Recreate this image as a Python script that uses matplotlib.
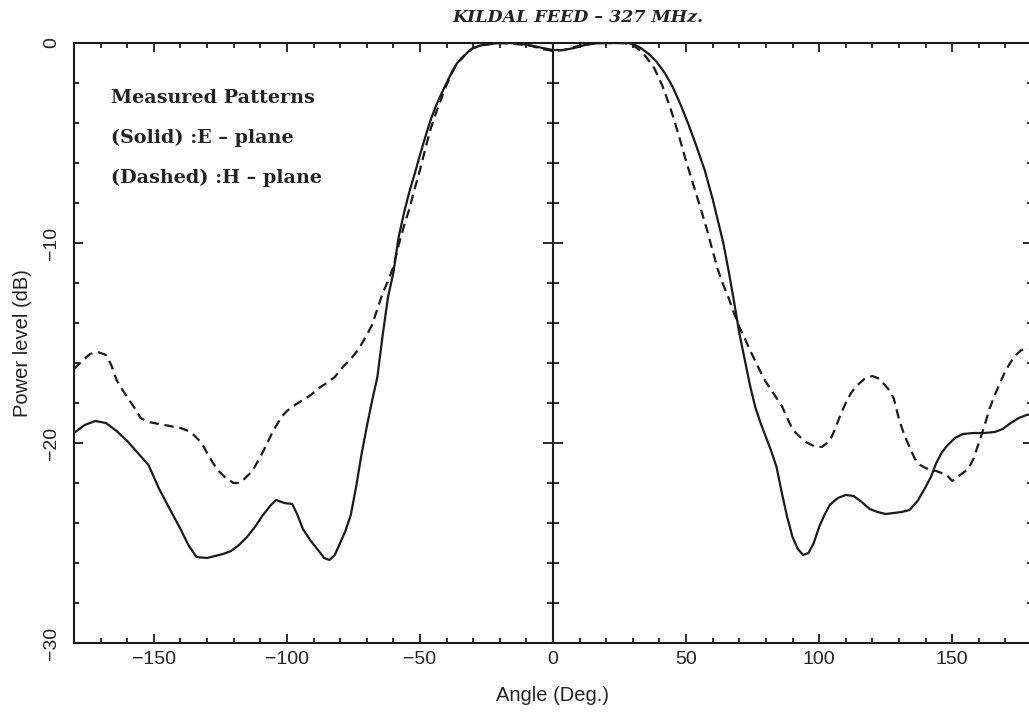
import matplotlib
matplotlib.use("Agg")
import matplotlib.pyplot as plt
from matplotlib.ticker import MultipleLocator

# E-plane (solid) measured pattern
e_angle = [-180, -176, -172, -168, -164, -160, -156, -152, -148, -144, -140, -137, -134, -130,
           -127, -124, -121, -118, -115, -112, -109, -106, -104, -101, -98, -96, -94, -91, -88,
           -86, -84, -82, -80, -78, -76, -74, -72, -70, -68, -66, -64, -62, -60, -58, -56, -54,
           -52, -50, -48, -46, -44, -42, -40, -38, -36, -34, -32, -30, -27, -24, -20, -16, -12,
           -8, -4, 0, 4, 8, 12, 16, 20, 24, 28, 30, 33, 36, 39, 42, 45, 48, 51, 54, 57, 60, 62,
           64, 66, 68, 70, 72, 74, 76, 78, 80, 82, 84, 86, 88, 90, 92, 94, 96, 98, 100, 102, 104,
           107, 110, 113, 116, 119, 122, 125, 128, 131, 134, 137, 140, 142, 144, 146, 148, 151,
           154, 158, 162, 166, 169, 172, 175, 178, 180]
e_db = [-19.5, -19.1, -18.9, -19.0, -19.4, -19.9, -20.5, -21.1, -22.3, -23.3, -24.3, -25.1, -25.7,
        -25.75, -25.65, -25.55, -25.4, -25.1, -24.7, -24.2, -23.6, -23.1, -22.85, -23.0, -23.05,
        -23.6, -24.3, -24.9, -25.4, -25.75, -25.85, -25.6, -25.0, -24.4, -23.6, -22.2, -20.6,
        -19.2, -17.9, -16.7, -14.6, -12.7, -11.5, -9.7, -8.5, -7.45, -6.55, -5.6, -4.7, -3.85,
        -3.15, -2.55, -2.0, -1.45, -1.0, -0.75, -0.45, -0.25, -0.12, -0.05, 0.0, 0.0, -0.05,
        -0.13, -0.25, -0.35, -0.35, -0.25, -0.1, -0.02, 0.0, 0.0, 0.0, -0.05, -0.25, -0.55,
        -0.95, -1.5, -2.2, -3.1, -4.1, -5.2, -6.35, -7.8, -8.9, -10.0, -11.4, -12.9, -14.5,
        -15.8, -17.1, -18.2, -19.0, -19.7, -20.4, -21.2, -22.5, -23.7, -24.7, -25.3, -25.6,
        -25.5, -25.0, -24.2, -23.6, -23.1, -22.75, -22.6, -22.65, -22.95, -23.3, -23.45, -23.55,
        -23.5, -23.45, -23.35, -22.9, -22.2, -21.7, -21.0, -20.5, -20.15, -19.75, -19.55, -19.5,
        -19.5, -19.45, -19.3, -19.0, -18.75, -18.6, -18.55]

# H-plane (dashed) measured pattern
h_angle = [-180, -177, -174, -171, -168, -166, -164, -162, -160, -157, -155, -152, -148, -144,
           -140, -137, -135, -132, -130, -128, -126, -123, -120, -118, -116, -113, -110, -107,
           -105, -102, -100, -97, -94, -91, -88, -85, -82, -79, -76, -73, -70, -68, -66, -64,
           -62, -60, -58, -56, -54, -52, -50, -48, -46, -44, -42, -40, -38, -36, -34, -32, -30,
           -26, -20, -14, -8, -4, 0, 4, 8, 12, 16, 22, 26, 29, 31, 33, 35, 38, 41, 44, 47, 50,
           53, 56, 58, 60, 62, 64, 66, 68, 70, 72, 74, 76, 78, 80, 82, 84, 86, 88, 90, 92, 95,
           98, 101, 104, 106, 108, 110, 112, 114, 117, 120, 122, 124, 126, 128, 130, 132, 134,
           136, 138, 140, 142, 144, 146, 148, 150, 152, 154, 156, 158, 160, 162, 164, 166, 168,
           170, 172, 174, 176, 178, 180]
h_db = [-16.3, -15.9, -15.55, -15.45, -15.6, -16.1, -16.85, -17.3, -17.7, -18.3, -18.75, -18.95,
        -19.05, -19.15, -19.25, -19.4, -19.6, -20.0, -20.5, -20.95, -21.35, -21.75, -22.0, -22.0,
        -21.8, -21.4, -20.7, -19.9, -19.35, -18.7, -18.4, -18.1, -17.85, -17.6, -17.25, -17.0,
        -16.7, -16.2, -15.8, -15.3, -14.6, -14.1, -13.3, -12.5, -11.9, -11.2, -10.1, -9.15,
        -8.3, -7.3, -6.35, -5.3, -4.3, -3.5, -2.8, -2.1, -1.5, -1.0, -0.7, -0.45, -0.25, -0.1,
        0.0, -0.05, -0.15, -0.3, -0.4, -0.35, -0.2, -0.08, 0.0, 0.0, 0.0, -0.05, -0.2, -0.4,
        -0.7, -1.25, -2.1, -3.2, -4.5, -5.9, -7.2, -8.5, -9.4, -10.4, -11.35, -12.1, -12.75,
        -13.5, -14.2, -14.75, -15.35, -15.9, -16.45, -16.95, -17.35, -17.75, -18.15, -18.75,
        -19.3, -19.6, -19.95, -20.15, -20.2, -19.9, -19.3, -18.6, -18.0, -17.5, -17.15, -16.8,
        -16.65, -16.75, -17.0, -17.3, -17.75, -18.8, -19.6, -20.2, -20.8, -21.1, -21.25, -21.35,
        -21.4, -21.5, -21.6, -21.9, -21.7, -21.5, -21.3, -20.8, -20.0, -19.2, -18.3, -17.6,
        -17.0, -16.4, -15.95, -15.6, -15.35, -15.3, -15.3]

x_ticks = [-150, -100, -50, 0, 50, 100, 150]
y_ticks = [-30, -20, -10, 0]
title = "KILDAL FEED \u2013 327 MHz."
legend_lines = ["Measured Patterns", "(Solid) :E \u2013 plane", "(Dashed) :H \u2013 plane"]

W, H = 1029, 715
fig = plt.figure(figsize=(W / 100, H / 100), dpi=100)
left, right, top, bottom = 74, 1032, 43, 643
ax = fig.add_axes([left / W, 1 - bottom / H, (right - left) / W, (bottom - top) / H])

col = "#1a1a1a"
ax.plot(e_angle, e_db, color=col, lw=1.6, solid_joinstyle="round")
ax.plot(h_angle, h_db, color=col, lw=1.6, linestyle=(0, (4.2, 2.6)))

ax.set_xlim(-180, 180)
ax.set_ylim(-30, 0)

# central axis line with crossing ticks
ax.axvline(0, color=col, lw=1.5)
for yv in range(-28, 0, 2):
    major = (yv % 10 == 0)
    ax.plot([0], [yv], marker="_", color=col, markersize=14 if major else 8.5,
            markeredgewidth=1.3, clip_on=False)

for s in ax.spines.values():
    s.set_linewidth(1.5)
    s.set_color(col)

ax.xaxis.set_major_locator(MultipleLocator(50))
ax.xaxis.set_minor_locator(MultipleLocator(10))
ax.yaxis.set_major_locator(MultipleLocator(10))
ax.yaxis.set_minor_locator(MultipleLocator(2))
ax.set_xticks(x_ticks)
ax.set_yticks(y_ticks)
ax.tick_params(which="both", direction="in", top=True, right=True, color=col, width=1.3)
ax.tick_params(which="major", length=6.5)
ax.tick_params(which="minor", length=3.8)

tick_font = dict(family=["Liberation Sans", "DejaVu Sans"], size=14)
label_font = dict(family=["Liberation Sans", "DejaVu Sans"], size=14.5)
ax.set_xticklabels([str(v).replace("-", "\u2212") for v in x_ticks], fontdict=tick_font, color="#222222")
ax.set_yticklabels([str(v).replace("-", "\u2212") for v in y_ticks], fontdict=tick_font,
                   rotation=90, va="center", color="#222222")
ax.tick_params(axis="x", which="major", pad=6)
ax.tick_params(axis="y", which="major", pad=10)

ax.set_xlabel("Angle (Deg.)", fontdict=label_font, color="#222222")
ax.xaxis.set_label_coords((553 - left) / (right - left), -(686 - bottom) / (bottom - top))
ax.set_ylabel("Power level (dB)", fontdict=label_font, color="#222222")
ax.yaxis.set_label_coords(-(left - 32) / (right - left), 0.5)

fig.text(578 / W, 1 - 18 / H, title, ha="center", va="center",
         family="DejaVu Serif", style="italic", weight="bold", size=12.5, color="#222222")

for txt, yp in zip(legend_lines, [98, 138, 178]):
    fig.text(111 / W, 1 - yp / H, txt, ha="left", va="center",
             family="DejaVu Serif", weight="bold", size=13.8, color="#222222")

fig.savefig("out.png", dpi=100)
